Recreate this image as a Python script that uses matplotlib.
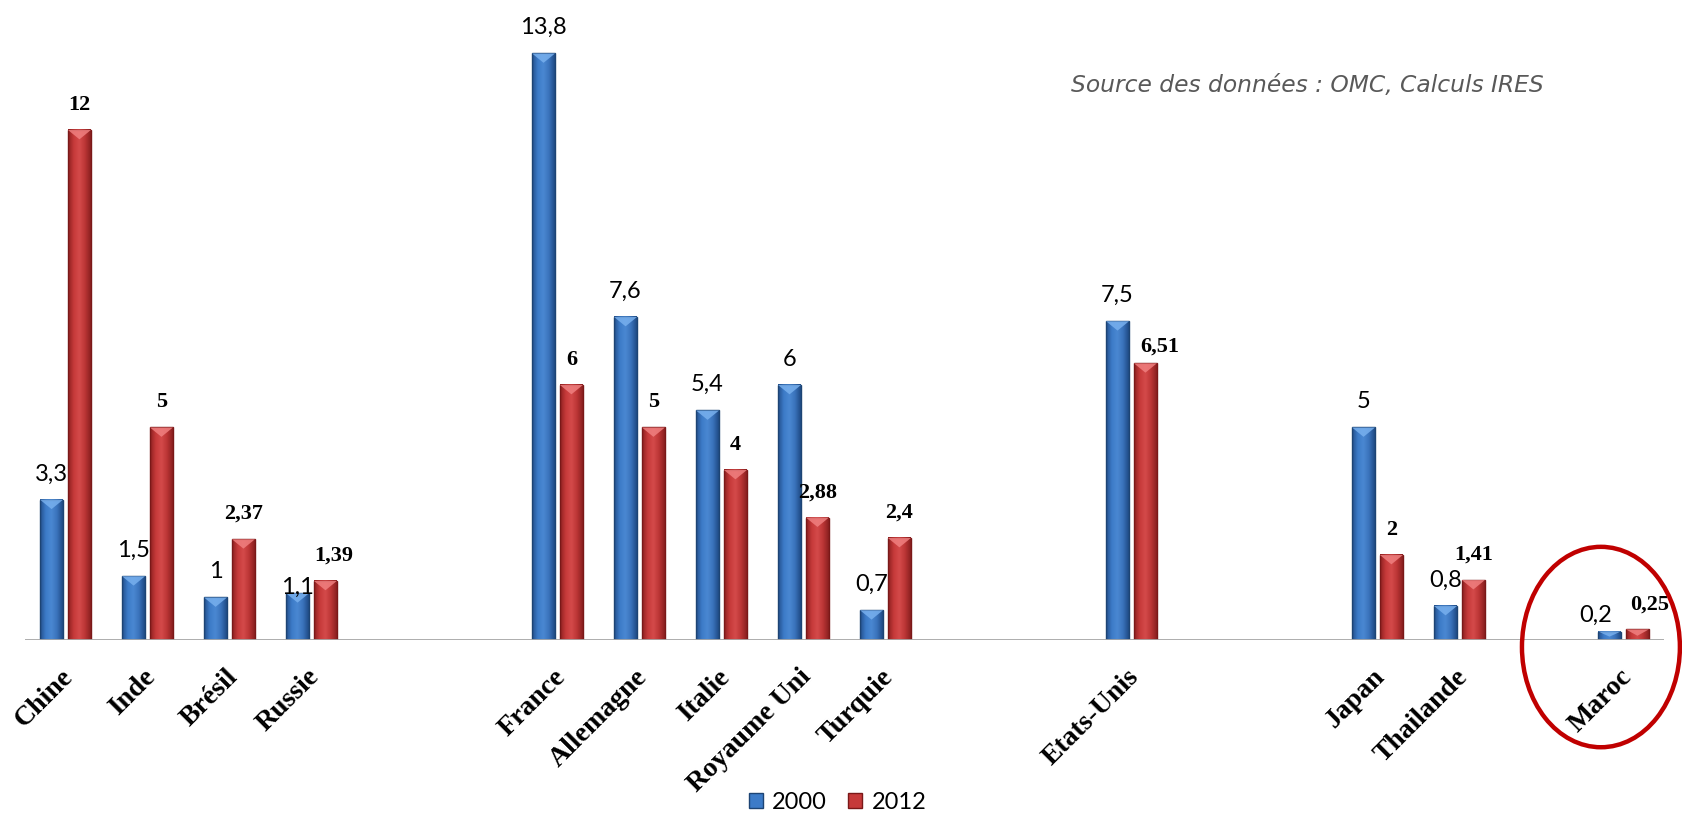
import numpy as np
import matplotlib
matplotlib.use("Agg")
import matplotlib.pyplot as plt
from matplotlib.colors import LinearSegmentedColormap
from matplotlib.patches import Ellipse, Patch, Polygon

# Blank categories keep the gaps between country groups
categories = ["Chine", "Inde", "Brésil", "Russie", "", "",
              "France", "Allemagne", "Italie", "Royaume Uni", "Turquie", "", "",
              "Etats-Unis", "", "", "Japan", "Thailande", "", "Maroc"]
values_2000 = [3.3, 1.5, 1, 1.1, None, None,
               13.8, 7.6, 5.4, 6, 0.7, None, None,
               7.5, None, None, 5, 0.8, None, 0.2]
values_2012 = [12, 5, 2.37, 1.39, None, None,
               6, 5, 4, 2.88, 2.4, None, None,
               6.51, None, None, 2, 1.41, None, 0.25]
labels_2000 = ["3,3", "1,5", "1", "1,1", "", "",
               "13,8", "7,6", "5,4", "6", "0,7", "", "",
               "7,5", "", "", "5", "0,8", "", "0,2"]
labels_2012 = ["12", "5", "2,37", "1,39", "", "",
               "6", "5", "4", "2,88", "2,4", "", "",
               "6,51", "", "", "2", "1,41", "", "0,25"]
series_names = ["2000", "2012"]

BLUE = dict(edge="#1d4474", cmap=["#24508c", "#3c7bc8", "#4a88d2", "#3a72bb", "#1f4b85"], tip="#78b0ee")
RED = dict(edge="#7a1818", cmap=["#8e2020", "#c63a3a", "#d44a4a", "#bb3535", "#8a2020"], tip="#f08080")

BAR_W = 0.28
OFFSET = 0.17
# label offsets (points) where neighbouring labels would collide
NUDGE_2000 = {3: (0, -3), 19: (-10, 4)}
NUDGE_2012 = {3: (6, 11), 13: (10, 5), 19: (9, 11)}

fig = plt.figure(figsize=(16.82, 8.18), dpi=100)
ax = fig.add_axes([0.01457, 0.2176, 0.9750, 0.7794])
ax.set_xlim(-0.5, 19.5)
ax.set_ylim(0, 15)


def draw_bar(x, h, style):
    x0, x1 = x - BAR_W / 2, x + BAR_W / 2
    cmap = LinearSegmentedColormap.from_list("bar", style["cmap"])
    grad = np.linspace(0, 1, 64).reshape(1, -1)
    ax.imshow(grad, extent=(x0, x1, 0, h), aspect="auto", cmap=cmap,
              interpolation="bicubic", zorder=2)
    ax.add_patch(plt.Rectangle((x0, 0), BAR_W, h, fill=False,
                               edgecolor=style["edge"], lw=1.0, zorder=3))
    # bevelled top
    bevel = min(0.22, h * 0.6)
    ax.add_patch(Polygon([(x0, h), (x1, h), (x, h - bevel)], closed=True,
                         facecolor=style["tip"], edgecolor="none",
                         alpha=0.85, zorder=3))


for i, name in enumerate(categories):
    if values_2000[i] is not None:
        draw_bar(i - OFFSET, values_2000[i], BLUE)
        dx, dy = NUDGE_2000.get(i, (0, 11))
        ax.annotate(labels_2000[i], (i - OFFSET, values_2000[i]),
                    xytext=(dx, dy), textcoords="offset points",
                    ha="center", va="bottom", fontsize=17, family="Lato",
                    color="black", zorder=5)
    if values_2012[i] is not None:
        draw_bar(i + OFFSET, values_2012[i], RED)
        dx, dy = NUDGE_2012.get(i, (0, 11))
        ax.annotate(labels_2012[i], (i + OFFSET, values_2012[i]),
                    xytext=(dx, dy), textcoords="offset points",
                    ha="center", va="bottom", fontsize=16,
                    family="Liberation Serif", fontweight="bold",
                    color="black", zorder=5)
    if name:
        ax.annotate(name, (i, 0), xytext=(3, -24), textcoords="offset points",
                    ha="right", va="center", rotation=45,
                    rotation_mode="anchor", fontsize=20,
                    family="Liberation Serif", fontweight="bold",
                    annotation_clip=False)

ax.axhline(0, color="#a6a6a6", lw=2, zorder=4)
for side in ["top", "right", "left", "bottom"]:
    ax.spines[side].set_visible(False)
ax.set_xticks([])
ax.set_yticks([])

fig.text(0.637, 0.895, "Source des données : OMC, Calculs IRES",
         fontsize=16.8, style="italic", color="#595959", va="center",
         family="DejaVu Sans")

handles = [Patch(facecolor=BLUE["cmap"][1], edgecolor=BLUE["edge"]),
           Patch(facecolor=RED["cmap"][1], edgecolor=RED["edge"])]
fig.legend(handles, series_names, loc="center", bbox_to_anchor=(0.498, 0.0195),
           ncol=2, frameon=False, handlelength=0.6, handleheight=0.6,
           handletextpad=0.4, columnspacing=0.9,
           prop={"family": "Lato", "size": 17})

fig.add_artist(Ellipse((0.9518, 0.209), 0.0939, 0.245, transform=fig.transFigure,
                       fill=False, edgecolor="#c00000", lw=3.2))

fig.savefig("out.png", dpi=100)
